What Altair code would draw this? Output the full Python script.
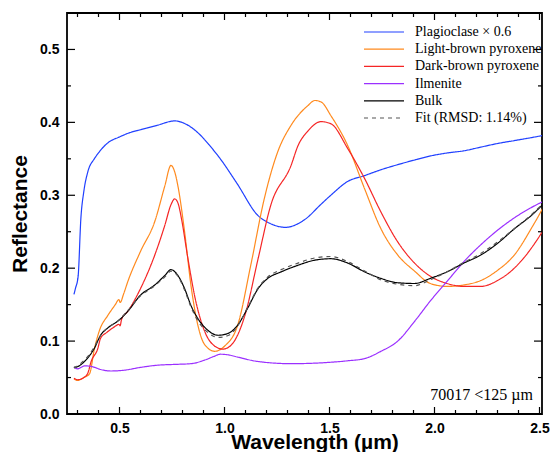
import altair as alt
import pandas as pd

# ---------------- data ----------------
series_names = ["Plagioclase \u00d7 0.6", "Light-brown pyroxene", "Dark-brown pyroxene",
                "Ilmenite", "Bulk", "Fit (RMSD: 1.14%)"]
series_colors = ["#2040ff", "#ff8a1e", "#f52525", "#9b30ff", "#000000", "#555555"]

plag_wl = [0.283, 0.29, 0.303, 0.316, 0.33, 0.349, 0.38, 0.397, 0.445, 0.5, 0.55, 0.602, 0.68,
           0.763, 0.82, 0.887, 0.93, 0.98, 1.06, 1.16, 1.22, 1.29, 1.35, 1.397, 1.45, 1.506,
           1.587, 1.667, 1.745, 1.825, 1.9, 1.982, 2.06, 2.14, 2.22, 2.30, 2.38, 2.46, 2.53, 2.6]
plag_r = [0.164, 0.172, 0.189, 0.268, 0.305, 0.332, 0.350, 0.357, 0.372, 0.380, 0.386, 0.390,
          0.396, 0.402, 0.397, 0.382, 0.368, 0.350, 0.316, 0.272, 0.261, 0.256, 0.261, 0.270,
          0.285, 0.300, 0.319, 0.327, 0.335, 0.342, 0.348, 0.354, 0.358, 0.361, 0.366, 0.371,
          0.375, 0.379, 0.383, 0.388]

lbp_wl = [0.283, 0.30, 0.33, 0.357, 0.381, 0.405, 0.444, 0.48, 0.497, 0.503, 0.52, 0.54, 0.60,
          0.668, 0.716, 0.745, 0.765, 0.778, 0.81, 0.84, 0.873, 0.906, 0.954, 1.0, 1.063, 1.125,
          1.19, 1.254, 1.317, 1.397, 1.43, 1.46, 1.507, 1.587, 1.667, 1.745, 1.825, 1.905,
          1.98, 2.06, 2.14, 2.22, 2.30, 2.38, 2.46, 2.53, 2.6]
lbp_r = [0.048, 0.046, 0.050, 0.055, 0.090, 0.115, 0.135, 0.150, 0.157, 0.153, 0.165, 0.182,
         0.223, 0.264, 0.313, 0.341, 0.330, 0.313, 0.250, 0.177, 0.122, 0.095, 0.086, 0.093,
         0.122, 0.204, 0.296, 0.360, 0.396, 0.423, 0.430, 0.428, 0.409, 0.368, 0.309, 0.254,
         0.218, 0.196, 0.179, 0.175, 0.177, 0.183, 0.197, 0.218, 0.254, 0.291, 0.340]

dbp_wl = [0.283, 0.30, 0.33, 0.349, 0.365, 0.397, 0.41, 0.44, 0.478, 0.497, 0.503, 0.51, 0.54,
          0.60, 0.668, 0.716, 0.745, 0.763, 0.78, 0.795, 0.826, 0.86, 0.906, 0.954, 0.992,
          1.03, 1.097, 1.16, 1.22, 1.317, 1.35, 1.397, 1.46, 1.507, 1.587, 1.667, 1.745,
          1.825, 1.905, 1.98, 2.06, 2.14, 2.22, 2.30, 2.38, 2.46, 2.53, 2.6]
dbp_r = [0.049, 0.047, 0.050, 0.056, 0.072, 0.090, 0.104, 0.112, 0.120, 0.123, 0.121, 0.130,
         0.141, 0.172, 0.218, 0.259, 0.287, 0.295, 0.288, 0.268, 0.213, 0.159, 0.113, 0.093,
         0.089, 0.094, 0.135, 0.213, 0.286, 0.341, 0.368, 0.388, 0.401, 0.398, 0.364, 0.323,
         0.277, 0.236, 0.207, 0.189, 0.179, 0.175, 0.175, 0.183, 0.200, 0.227, 0.259, 0.305]

ilm_wl = [0.283, 0.30, 0.335, 0.37, 0.41, 0.46, 0.52, 0.602, 0.683, 0.76, 0.84, 0.906, 0.95,
          0.98, 1.02, 1.063, 1.16, 1.317, 1.507, 1.587, 1.667, 1.745, 1.825, 1.905, 1.98,
          2.06, 2.14, 2.22, 2.30, 2.38, 2.46, 2.53, 2.6]
ilm_r = [0.064, 0.062, 0.066, 0.065, 0.061, 0.059, 0.060, 0.064, 0.067, 0.068, 0.069, 0.074,
         0.079, 0.082, 0.081, 0.078, 0.072, 0.069, 0.071, 0.073, 0.076, 0.086, 0.100, 0.127,
         0.155, 0.182, 0.209, 0.232, 0.252, 0.269, 0.283, 0.293, 0.300]

bulk_wl = [0.283, 0.30, 0.349, 0.38, 0.41, 0.444, 0.49, 0.507, 0.54, 0.60, 0.668, 0.716, 0.745,
           0.778, 0.81, 0.84, 0.873, 0.92, 0.97, 1.02, 1.063, 1.11, 1.16, 1.206, 1.27, 1.35,
           1.43, 1.507, 1.587, 1.667, 1.745, 1.825, 1.905, 1.98, 2.06, 2.14, 2.22, 2.30, 2.38,
           2.46, 2.53, 2.6]
bulk_r = [0.064, 0.065, 0.077, 0.090, 0.108, 0.118, 0.127, 0.131, 0.141, 0.163, 0.177, 0.190,
          0.198, 0.190, 0.172, 0.149, 0.131, 0.115, 0.108, 0.111, 0.122, 0.145, 0.172, 0.186,
          0.195, 0.204, 0.211, 0.213, 0.207, 0.195, 0.186, 0.180, 0.179, 0.186, 0.195, 0.207,
          0.218, 0.234, 0.254, 0.272, 0.291, 0.308]

fit_wl = [0.283, 0.30, 0.349, 0.38, 0.41, 0.444, 0.49, 0.54, 0.60, 0.668, 0.716, 0.745, 0.778,
          0.81, 0.84, 0.873, 0.92, 0.97, 1.02, 1.063, 1.11, 1.16, 1.206, 1.27, 1.35, 1.43,
          1.507, 1.587, 1.667, 1.745, 1.825, 1.905, 1.98, 2.06, 2.14, 2.22, 2.30, 2.38, 2.46,
          2.53, 2.6]
fit_r = [0.063, 0.066, 0.079, 0.092, 0.108, 0.118, 0.127, 0.142, 0.162, 0.176, 0.188, 0.196,
         0.189, 0.170, 0.147, 0.128, 0.112, 0.105, 0.108, 0.121, 0.146, 0.173, 0.188, 0.198,
         0.207, 0.214, 0.216, 0.209, 0.196, 0.184, 0.178, 0.176, 0.184, 0.195, 0.208, 0.220,
         0.236, 0.254, 0.273, 0.292, 0.310]

x_major = [0.5, 1.0, 1.5, 2.0, 2.5]
x_minor = [0.3, 0.4, 0.6, 0.7, 0.8, 0.9, 1.1, 1.2, 1.3, 1.4, 1.6, 1.7, 1.8, 1.9, 2.1, 2.2,
           2.3, 2.4]
y_major = [0.0, 0.1, 0.2, 0.3, 0.4, 0.5]
y_minor = [0.05, 0.15, 0.25, 0.35, 0.45]

x_title = "Wavelength (\u00b5m)"
annotation = "70017 <125 \u00b5m"

# ---------------- build table ----------------
pairs = [(plag_wl, plag_r), (lbp_wl, lbp_r), (dbp_wl, dbp_r), (ilm_wl, ilm_r),
         (bulk_wl, bulk_r), (fit_wl, fit_r)]
rows = []
for name, (wl, r) in zip(series_names, pairs):
    for i, (a, b) in enumerate(zip(wl, r)):
        rows.append({"series": name, "wl": a, "r": b, "order": i})
df = pd.DataFrame(rows)

W, H = 475, 401
xs = alt.Scale(domain=[0.25, 0.25 + W / 210.0], nice=False, zero=False)
ys = alt.Scale(domain=[0.0, 0.55], nice=False, zero=False)

legend_kw = dict(title=None, orient="none", legendX=308, legendY=10,
                 symbolType="M-2.5,0H2.5", symbolSize=256, symbolStrokeWidth=1.2,
                 labelOffset=22, labelFont="Liberation Serif", labelFontSize=14,
                 labelColor="black", rowPadding=1.2, padding=0, labelLimit=300)

lines = alt.Chart(df).mark_line(strokeWidth=1.2, clip=True, interpolate="monotone").encode(
    x=alt.X("wl:Q", scale=xs, title=None,
            axis=alt.Axis(values=x_major, format=".1f", ticks=False, domain=False,
                          grid=False, labelPadding=7)),
    y=alt.Y("r:Q", scale=ys, title="Reflectance",
            axis=alt.Axis(values=y_major, format=".1f", ticks=False, domain=False,
                          grid=False, labelPadding=8, titlePadding=9)),
    color=alt.Color("series:N", scale=alt.Scale(domain=series_names, range=series_colors),
                    legend=alt.Legend(**legend_kw)),
    strokeDash=alt.StrokeDash("series:N",
                              scale=alt.Scale(domain=series_names,
                                              range=[[1, 0]] * 5 + [[4, 4]]),
                              legend=alt.Legend(**legend_kw)),
    order="order:O",
)

def xticks(vals, length):
    d = pd.DataFrame({"v": vals})
    bottom = alt.Chart(d).mark_rule(color="black", strokeWidth=1.2).encode(
        x=alt.X("v:Q", scale=xs), y=alt.value(H), y2=alt.value(H - length))
    top = alt.Chart(d).mark_rule(color="black", strokeWidth=1.2).encode(
        x=alt.X("v:Q", scale=xs), y=alt.value(0), y2=alt.value(length))
    return [bottom, top]

def yticks(vals, length):
    d = pd.DataFrame({"v": vals})
    left = alt.Chart(d).mark_rule(color="black", strokeWidth=1.2).encode(
        y=alt.Y("v:Q", scale=ys), x=alt.value(0), x2=alt.value(length))
    right = alt.Chart(d).mark_rule(color="black", strokeWidth=1.2).encode(
        y=alt.Y("v:Q", scale=ys), x=alt.value(W), x2=alt.value(W - length))
    return [left, right]

tick_layers = xticks(x_major, 7) + xticks(x_minor, 4) + yticks(y_major, 8) + yticks(y_minor, 4)

label = alt.Chart(pd.DataFrame({"t": [annotation]})).mark_text(
    font="Liberation Serif", fontSize=16, align="right", baseline="alphabetic", color="black"
).encode(text="t:N", x=alt.value(466), y=alt.value(387))

xtitle = alt.Chart(pd.DataFrame({"t": [x_title]})).mark_text(
    font="Liberation Sans", fontSize=21, fontWeight="bold", align="center",
    baseline="alphabetic", color="black"
).encode(text="t:N", x=alt.value(248), y=alt.value(436))

chart = alt.layer(lines, *tick_layers, label, xtitle).properties(
    width=W, height=H,
    autosize=alt.AutoSizeParams(type="none"),
    padding={"left": 59, "top": 5, "right": 8, "bottom": 38},
).configure_view(stroke="black", strokeWidth=1.8).configure_axis(
    labelFont="Liberation Sans", labelFontWeight="bold", labelFontSize=14, labelColor="black",
    titleFont="Liberation Sans", titleFontWeight="bold", titleFontSize=21, titleColor="black",
)

chart.save("out.html", embed_options={"renderer": "svg", "actions": False})
